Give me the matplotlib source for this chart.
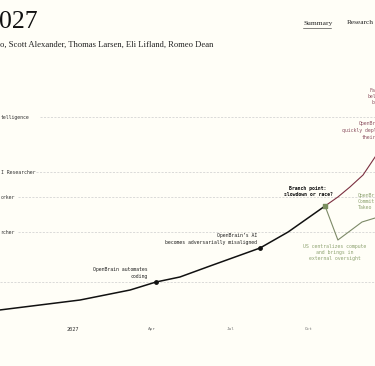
import matplotlib
matplotlib.use("Agg")
import matplotlib.pyplot as plt

# ---------------- data ----------------
# x: months since Jan 2027, y: capability index (arbitrary units)
main_months = [-2.8, 0.27, 2.18, 3.17, 4.08, 5.23, 7.14, 8.21, 9.62]
main_cap    = [2.0, 3.0, 4.0, 4.8, 5.3, 6.4, 8.2, 9.8, 12.4]

race_months = [9.62, 10.11, 10.57, 11.07, 11.53, 11.72]
race_cap    = [12.4, 13.3, 14.3, 15.5, 17.3, 18.05]

slow_months = [9.62, 10.11, 11.03, 11.53, 11.72]
slow_cap    = [12.4, 9.0, 10.8, 11.2, 11.35]

event_months = [3.17, 7.14]
event_cap    = [4.8, 8.2]
branch_month = [9.62]
branch_cap   = [12.4]

level_cap    = [21.3, 15.8, 13.3, 9.8, 4.8]
level_labels = ["telligence", "I Researcher", "orker", "rcher", ""]

tick_months = [0, 3, 6, 9]
tick_labels = ["2027", "Apr", "Jul", "Oct"]

# ---------------- style ----------------
BG = "#fffef7"
RACE = "#7b2f40"
RACE_TXT = "#8c5060"
SLOW = "#7d8a68"
SLOW_TXT = "#8fa372"
MONO = "DejaVu Sans Mono"
SERIF = "Liberation Serif"
W, H = 375, 366

fig = plt.figure(figsize=(W / 100, H / 100), dpi=100, facecolor=BG)

def px(x, y):
    return x / W, 1 - y / H

ax_bottom_px = 322
ax = fig.add_axes([0, (H - ax_bottom_px) / H, 1, ax_bottom_px / H], facecolor=BG)
ax.set_xlim((0 - 73) / 26.2, (W - 73) / 26.2)
ax.set_ylim((330 - ax_bottom_px) / 10, 330 / 10)
for s in ax.spines.values():
    s.set_visible(False)
ax.set_yticks([])
ax.set_xticks(tick_months, tick_labels)
ax.tick_params(axis="x", length=0, pad=3.8)
for i, lab in enumerate(ax.get_xticklabels()):
    lab.set_fontfamily(MONO)
    if i == 0:
        lab.set_fontsize(3.8)
        lab.set_color("#333333")
    else:
        lab.set_fontsize(3.2)
        lab.set_color("#777777")

# level gridlines with labels
label_end_px = [40, 36, 18, 18, 0]
for cap, lab, xs in zip(level_cap, level_labels, label_end_px):
    x0 = ax.get_xlim()[0] + xs / 26.2
    ax.plot([x0, ax.get_xlim()[1]], [cap, cap], color="#cccccc", lw=0.5,
            dashes=(3, 2), zorder=1)
    if lab:
        ax.text(ax.get_xlim()[0] + 0.02, cap, lab, fontsize=3.5, family=MONO,
                color="#333333", va="center", ha="left")

# lines
ax.plot(main_months, main_cap, color="#111111", lw=1.1, zorder=3,
        solid_capstyle="round")
ax.plot(race_months, race_cap, color=RACE, lw=0.8, zorder=3)
ax.plot(slow_months, slow_cap, color=SLOW, lw=0.8, zorder=3)
ax.scatter(event_months, event_cap, s=6, color="#111111", zorder=4)
ax.scatter(branch_month, branch_cap, s=7, color="#7b8f5f", marker="s", zorder=4)

# annotations (figure pixel positions)
fs = 3.5
def ftxt(x, y, s, **kw):
    kw.setdefault("fontsize", fs)
    kw.setdefault("family", MONO)
    fig.text(*px(x, y), s, **kw)

ftxt(148, 273, "OpenBrain automates\ncoding", ha="right", va="center",
     multialignment="right", color="#222222", linespacing=1.35)
ftxt(257, 239, "OpenBrain\u2019s AI\nbecomes adversarially misaligned", ha="right",
     va="center", multialignment="right", color="#222222", linespacing=1.35)
ftxt(308, 191.5, "Branch point:\nslowdown or race?", ha="center", va="center",
     color="#111111", weight="bold", linespacing=1.35)
ftxt(335, 252.5, "US centralizes compute\nand brings in\nexternal oversight",
     ha="center", va="center", color=SLOW_TXT, linespacing=1.35)
ftxt(358, 201.5, "OpenBr\nCommit\nTakeo", ha="left", va="center",
     color=SLOW_TXT, linespacing=1.35)
ftxt(359, 124, "OpenBr", ha="left", va="center", color=RACE_TXT)
ftxt(342, 130.5, "quickly depl", ha="left", va="center", color=RACE_TXT)
ftxt(362, 137, "their", ha="left", va="center", color=RACE_TXT)
ftxt(370, 90, "Fa", ha="left", va="center", color=RACE_TXT)
ftxt(367, 96, "bel", ha="left", va="center", color=RACE_TXT)
ftxt(372, 102, "b", ha="left", va="center", color=RACE_TXT)

# header
fig.text(*px(-1, 22), "027", fontsize=18.5, family=SERIF, color="#111111",
         ha="left", va="center")
fig.text(*px(0, 45), "o, Scott Alexander, Thomas Larsen, Eli Lifland, Romeo Dean",
         fontsize=6.2, family=SERIF, color="#222222", ha="left", va="center")
fig.text(*px(303, 23), "Summary", fontsize=5.4, family=SERIF, color="#222222",
         ha="left", va="center")
fig.add_artist(plt.Line2D([303 / W, 331 / W], [1 - 27.5 / H, 1 - 27.5 / H],
                          color="#222222", lw=0.4))
fig.text(*px(347, 23), "Research", fontsize=5.2, family=SERIF, color="#222222",
         ha="left", va="center")

fig.savefig("out.png", dpi=100, facecolor=BG)
